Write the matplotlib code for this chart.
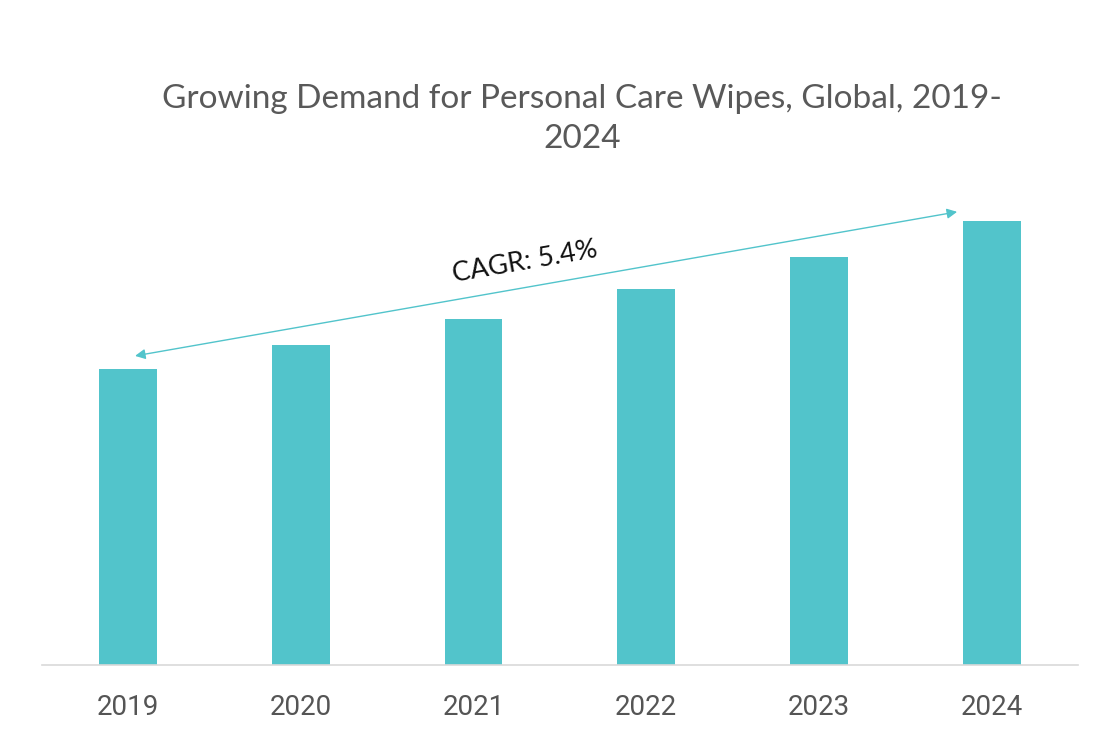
import matplotlib
matplotlib.use("Agg")
import matplotlib.pyplot as plt

years = ["2019", "2020", "2021", "2022", "2023", "2024"]
values = [29.6, 32.0, 34.6, 37.6, 40.8, 44.4]

bar_color = "#52C4CB"

fig = plt.figure(figsize=(11, 7.34), dpi=100)
ax = fig.add_axes([0.038, 0.094, 0.942, 0.661])

x = range(len(years))
ax.bar(x, values, width=0.335, color=bar_color)
ax.set_xlim(-0.5, 5.5)
ax.set_ylim(0, 48.5)

ax.set_xticks(list(x))
ax.set_xticklabels(years, fontfamily="Roboto", fontsize=20, color="#555555")
ax.tick_params(axis="x", length=0, pad=21)
ax.set_yticks([])
for s in ["top", "right", "left"]:
    ax.spines[s].set_visible(False)
ax.spines["bottom"].set_color("#d9d9d9")
ax.spines["bottom"].set_linewidth(1.2)

# CAGR arrow
ax.annotate("", xy=(0.04, 30.9), xytext=(4.80, 45.3),
            arrowprops=dict(arrowstyle="<|-|>", color=bar_color, lw=1,
                            mutation_scale=15, shrinkA=0, shrinkB=0))
ax.text(2.30, 40.3, "CAGR: 5.4%", rotation=9.9, rotation_mode="anchor",
        ha="center", va="center", fontsize=19.5, fontfamily="Lato", color="#111111")

fig.text(0.529, 0.838, "Growing Demand for Personal Care Wipes, Global, 2019-\n2024",
         ha="center", va="center", fontsize=24, fontfamily="Lato",
         color="#595959", linespacing=1.4)

fig.savefig("out.png", dpi=100)
